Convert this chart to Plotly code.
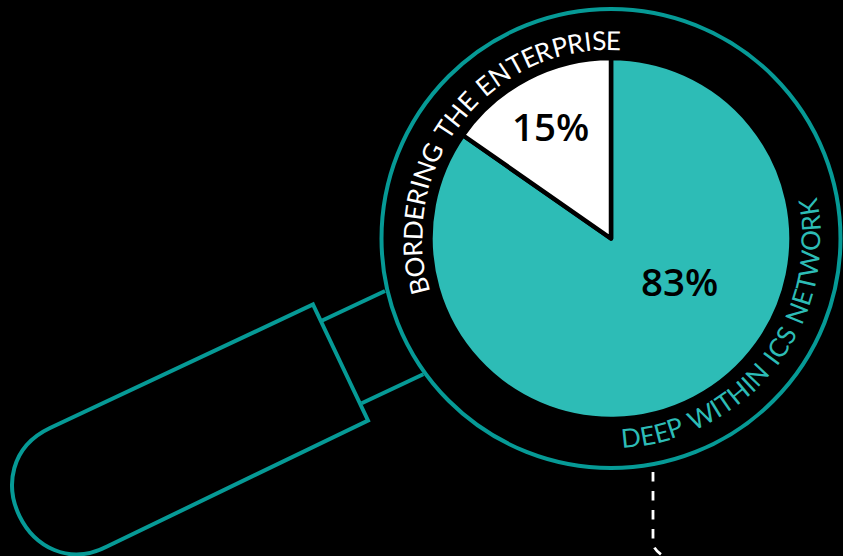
import math
import plotly.graph_objects as go

# Share of incidents by location
slice_labels = ["Deep within ICS network", "Bordering the enterprise"]
slice_values = [83, 15]
slice_colors = ["#2DBCB6", "#FFFFFF"]
value_label_colors = ["#000000", "#000000"]

outer_caption = "BORDERING THE ENTERPRISE"
inner_caption = "DEEP WITHIN ICS NETWORK"

W, H = 843, 556
TEAL_DARK = "#069A96"
TEAL = "#2DBCB6"
CX, CY = 611.0, 238.5
PIE_R = 180.5
RING_R = 229.5
FONT = "Open Sans"
CAPTION_FONT = "Lato"
CAPTION_SIZE = 26

# Advance widths of the caption font, in thousandths of an em
ADVANCE = dict(B=640, O=790, R=610, D=740, E=560, I=275, N=760, G=710, T=580,
               H=750, P=590, S=540, W=1000, C=660, K=640)
ADVANCE[" "] = 320


def px(x):
    return x / W


def py(y):
    return 1 - y / H


def path(*cmds):
    """Build a paper-referenced SVG path from (command, x, y, ...) tuples."""
    parts = []
    for cmd in cmds:
        coords = cmd[1:]
        pairs = [f"{px(coords[i]):.5f},{py(coords[i + 1]):.5f}" for i in range(0, len(coords), 2)]
        parts.append(cmd[0] + " ".join(pairs))
    return " ".join(parts)


def arc_text(text, start, end, radius, color, clockwise):
    """Lay a caption along a circle, one rotated annotation per glyph."""
    widths = [ADVANCE[c] for c in text]
    total = sum(widths)
    out = []
    run = 0
    for ch, w in zip(text, widths):
        frac = (run + w / 2) / total
        run += w
        if ch == " ":
            continue
        a = start + (end - start) * frac
        rad = math.radians(a)
        out.append(dict(
            x=px(CX + radius * math.cos(rad)), y=py(CY + radius * math.sin(rad)),
            xref="paper", yref="paper", text=ch, showarrow=False,
            xanchor="center", yanchor="middle", borderpad=0,
            textangle=a + 90 if clockwise else a - 90,
            font=dict(family=CAPTION_FONT, size=CAPTION_SIZE, color=color),
        ))
    return out


line = dict(color=TEAL_DARK, width=4)

shapes = [
    # Lens rim
    dict(type="circle", xref="paper", yref="paper",
         x0=px(CX - RING_R), x1=px(CX + RING_R),
         y0=py(CY + RING_R), y1=py(CY - RING_R), line=line),
    # Neck joining the handle to the rim
    dict(type="path", xref="paper", yref="paper", line=line,
         path=path(("M", 321.7, 320.7), ("L", 385, 291))),
    dict(type="path", xref="paper", yref="paper", line=line,
         path=path(("M", 361.7, 403.3), ("L", 423.3, 374.3))),
    # Handle
    dict(type="path", xref="paper", yref="paper", line=line,
         path=path(("M", 313, 304.5), ("L", 368, 420.5), ("L", 107, 546.5),
                   ("C", 30, 586, -30, 466, 50, 428), ("L", 313, 304.5)) + " Z"),
    # Dashed leader below the lens
    dict(type="path", xref="paper", yref="paper",
         line=dict(color="#FFFFFF", width=2.8, dash="9.5px,9.5px"),
         path=path(("M", 653, 472), ("L", 653, 543), ("Q", 653, 549, 663, 556))),
]

annotations = []
annotations += arc_text(outer_caption, -196.5, -87, 198.8, "#FFFFFF", True)
annotations += arc_text(inner_caption, 87, -11.5, 199.5, TEAL, False)
for value, color, (lx, ly) in zip(slice_values, value_label_colors, [(679.5, 281), (550, 126)]):
    annotations.append(dict(
        x=px(lx), y=py(ly), xref="paper", yref="paper", text=f"{value}%",
        showarrow=False, xanchor="center", yanchor="middle",
        font=dict(family=FONT, size=38.5, color=color, weight=600),
    ))

fig = go.Figure(go.Pie(
    labels=slice_labels, values=slice_values, sort=False, direction="clockwise",
    rotation=0, textinfo="none", hoverinfo="label+percent", showlegend=False,
    marker=dict(colors=slice_colors, line=dict(color="#000000", width=4.5)),
    domain=dict(x=[px(CX - PIE_R), px(CX + PIE_R)],
                y=[py(CY + PIE_R), py(CY - PIE_R)]),
))
fig.update_layout(
    width=W, height=H, margin=dict(l=0, r=0, t=0, b=0),
    paper_bgcolor="#000000", plot_bgcolor="#000000",
    shapes=shapes, annotations=annotations,
)
fig.write_html("out.html", config=dict(displayModeBar=False))
